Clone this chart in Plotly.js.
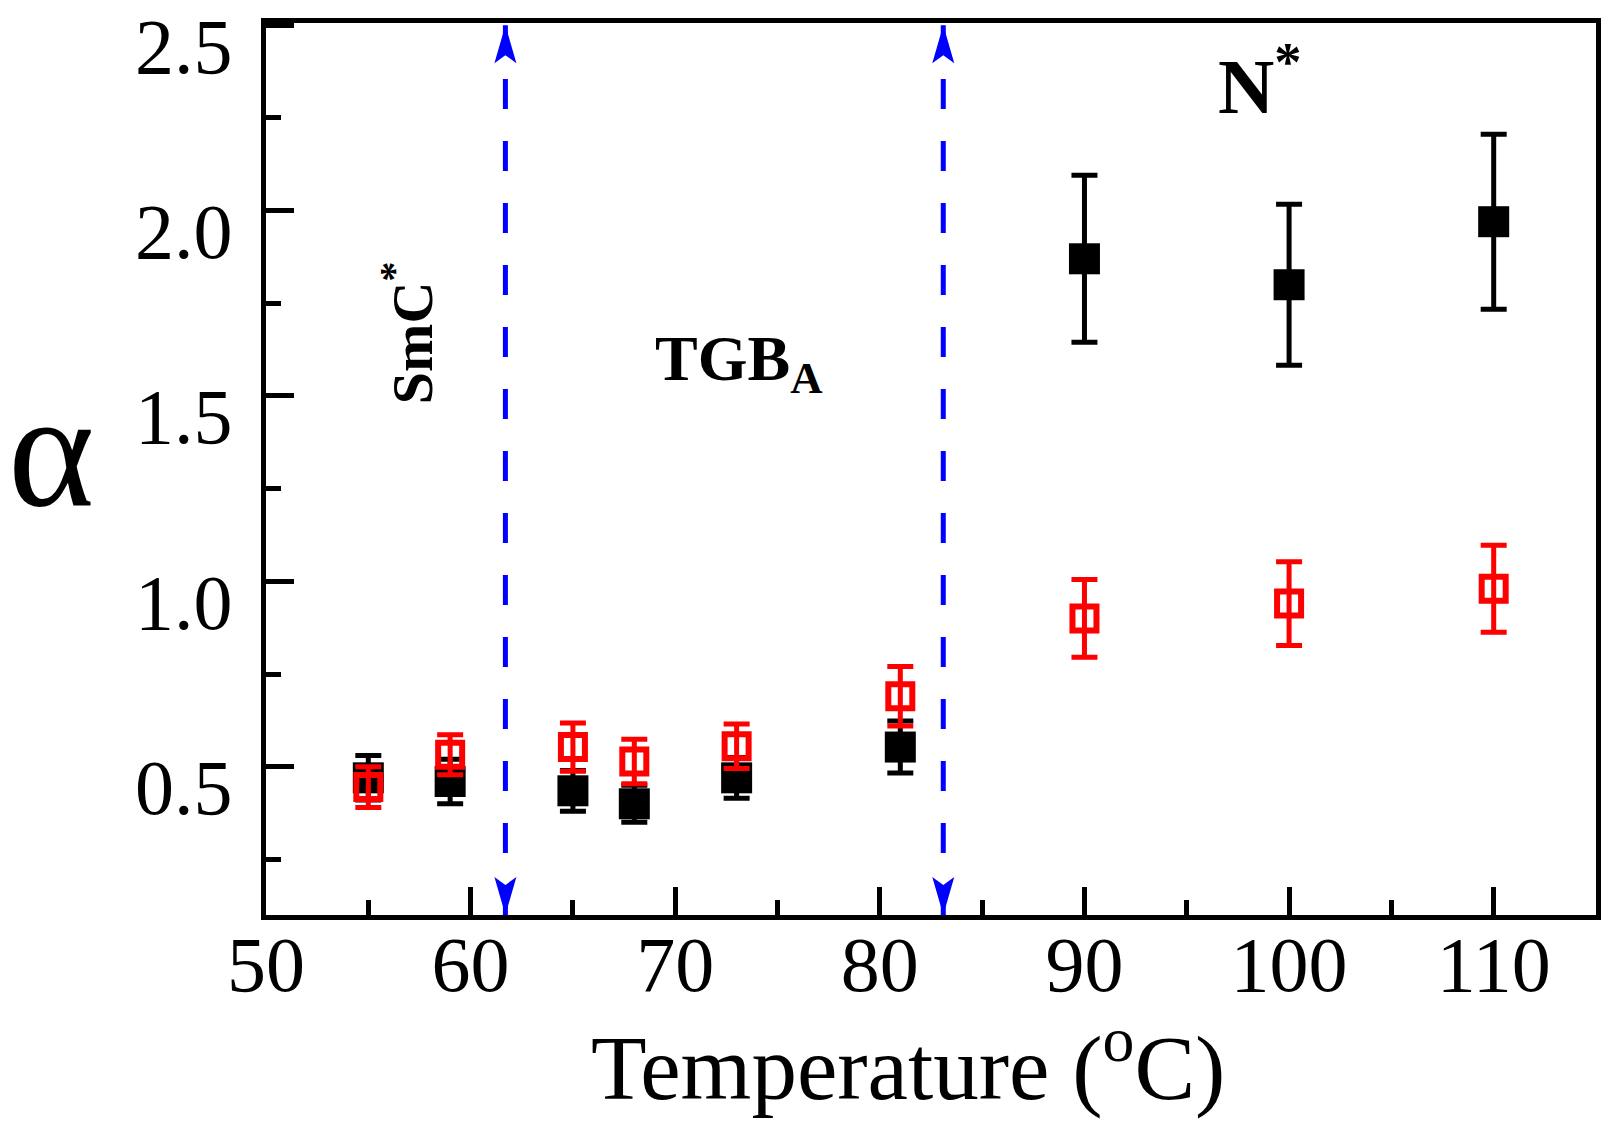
<!DOCTYPE html>
<html>
<head>
<meta charset="utf-8">
<script src="https://cdn.plot.ly/plotly-3.0.1.min.js"></script>
<style>
  html, body { margin: 0; padding: 0; background: #fff; }
  #plot { width: 1620px; height: 1136px; }
</style>
</head>
<body>
<div id="plot"></div>
<script>
//Temperatures of the measured points (°C)
var temps = [55, 59, 65, 68, 73, 81, 90, 100, 110];

//Filled black squares and their error bars
var blackVals = [0.47, 0.46, 0.435, 0.40, 0.47, 0.553, 1.87, 1.80, 1.97];
var blackErr = [0.06, 0.06, 0.055, 0.05, 0.055, 0.07, 0.225, 0.217, 0.236];

//Open red squares and their error bars
var redVals = [0.445, 0.532, 0.553, 0.514, 0.555, 0.69, 0.90, 0.94, 0.98];
var redErr = [0.055, 0.054, 0.065, 0.06, 0.06, 0.08, 0.105, 0.113, 0.117];

//Phase boundaries (blue dashed arrows) and the phase labels
var boundaries = [61.7, 83.1];
var phaseNames = ['SmC<sup>*</sup>', 'TGB<sub>A</sub>', 'N<sup>*</sup>'];
var phaseX = [56.95, 73.1, 98.6];
var phaseY = [1.67, 1.59, 2.35];

var xRange = [50, 115];
var yRange = [0.1, 2.506];

var serif = 'Liberation Serif, Times New Roman, serif';

var black = {
    x: temps,
    y: blackVals,
    type: 'scatter',
    mode: 'markers',
    marker: { symbol: 'square', size: 31, color: '#000' },
    error_y: { type: 'data', array: blackErr, visible: true, color: '#000', thickness: 5, width: 13 },
    showlegend: false,
    hoverinfo: 'x+y'
};

var red = {
    x: temps,
    y: redVals,
    type: 'scatter',
    mode: 'markers',
    marker: { symbol: 'square-open', size: 24, color: '#ff0000', line: { color: '#ff0000', width: 6 } },
    error_y: { type: 'data', array: redErr, visible: true, color: '#ff0000', thickness: 5, width: 13 },
    showlegend: false,
    hoverinfo: 'x+y'
};

//Dashed lines plus an arrowhead at each end
var shapes = [];
boundaries.forEach(function(b) {
    shapes.push({
        type: 'line', xref: 'x', yref: 'y',
        x0: b, x1: b, y0: 0.1, y1: 2.5,
        line: { color: '#0000ff', width: 5, dash: '30px,32px' }
    });
    shapes.push({
        type: 'path', xref: 'x', yref: 'y',
        xsizemode: 'pixel', ysizemode: 'pixel',
        xanchor: b, yanchor: 2.5,
        path: 'M0,0 L-11,-38 L0,-30 L11,-38 Z',
        fillcolor: '#0000ff', line: { width: 0 }
    });
    shapes.push({
        type: 'path', xref: 'x', yref: 'y',
        xsizemode: 'pixel', ysizemode: 'pixel',
        xanchor: b, yanchor: 0.1,
        path: 'M0,0 L-11,38 L0,30 L11,38 Z',
        fillcolor: '#0000ff', line: { width: 0 }
    });
});

var annotations = [];
var phaseSizes = [58, 64, 78];
var phaseAngles = [-90, 0, 0];
phaseNames.forEach(function(name, i) {
    annotations.push({
        x: phaseX[i], y: phaseY[i], xref: 'x', yref: 'y',
        text: '<b>' + name + '</b>',
        textangle: phaseAngles[i],
        showarrow: false,
        font: { family: serif, size: phaseSizes[i], color: '#000' }
    });
});

//Upright alpha as the y title
annotations.push({
    x: -0.1617, y: 0.522, xref: 'paper', yref: 'paper',
    text: 'α', showarrow: false,
    xanchor: 'center', yanchor: 'middle',
    font: { family: serif, size: 165, color: '#000' }
});

//x title, set slightly left of the axis centre as in the figure
annotations.push({
    x: 0.4827, y: -0.164, xref: 'paper', yref: 'paper',
    text: 'Temperature (<sup>o</sup>C)', showarrow: false,
    xanchor: 'center', yanchor: 'middle',
    font: { family: serif, size: 91, color: '#000' }
});

var layout = {
    width: 1620,
    height: 1136,
    margin: { l: 266, r: 24, t: 23, b: 221 },
    paper_bgcolor: '#fff',
    plot_bgcolor: '#fff',
    font: { family: serif, color: '#000' },
    xaxis: {
        range: xRange,
        tick0: 50, dtick: 10,
        ticks: 'inside', ticklen: 28, tickwidth: 5, tickcolor: '#000',
        minor: { dtick: 5, ticks: 'inside', ticklen: 15, tickwidth: 5, tickcolor: '#000' },
        showline: true, linewidth: 5, linecolor: '#000', mirror: true,
        showgrid: false, zeroline: false,
        tickfont: { family: serif, size: 78, color: '#000' },
        ticklabelstandoff: -23
    },
    yaxis: {
        range: yRange,
        tick0: 0.5, dtick: 0.5, tickformat: '.1f',
        ticks: 'inside', ticklen: 28, tickwidth: 5, tickcolor: '#000',
        minor: { dtick: 0.25, ticks: 'inside', ticklen: 15, tickwidth: 5, tickcolor: '#000' },
        showline: true, linewidth: 5, linecolor: '#000', mirror: true,
        showgrid: false, zeroline: false,
        tickfont: { family: serif, size: 78, color: '#000' },
        ticklabelstandoff: 13,
        ticklabelshift: 20
    },
    shapes: shapes,
    annotations: annotations,
    hovermode: 'closest'
};

Plotly.newPlot('plot', [black, red], layout, { displayModeBar: false, staticPlot: true });
</script>
</body>
</html>
